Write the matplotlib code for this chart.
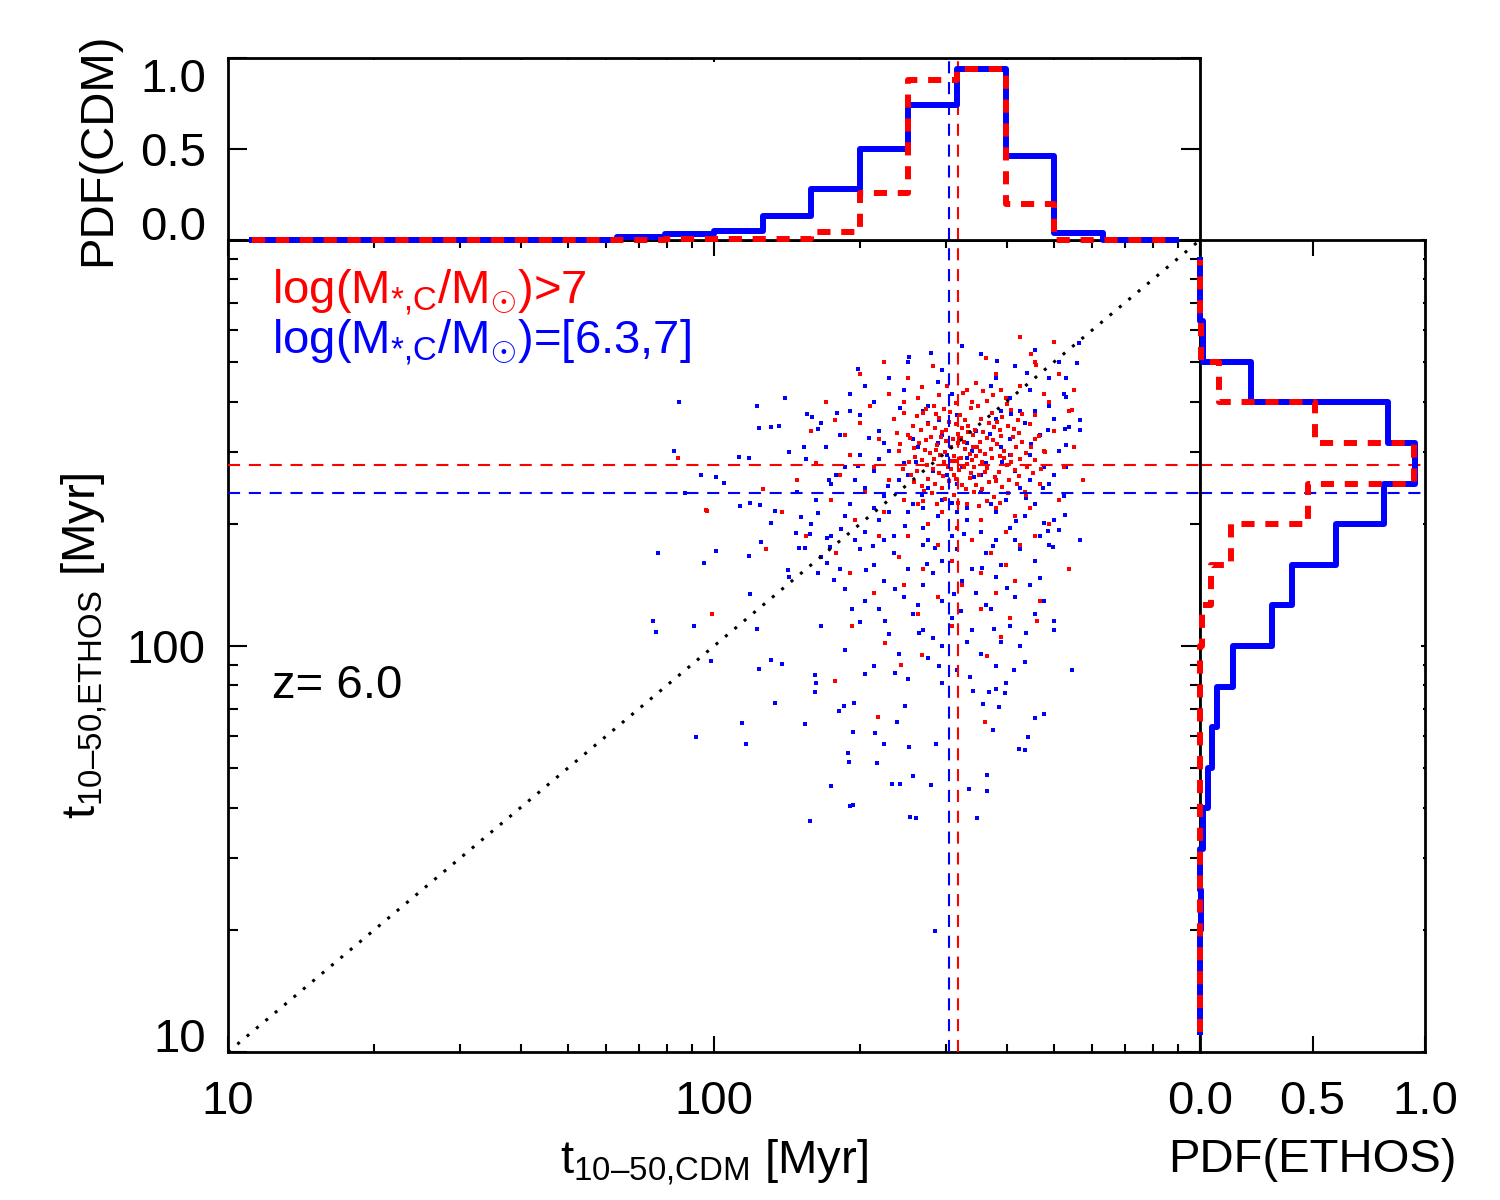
import numpy as np
import matplotlib
matplotlib.use('Agg')
import matplotlib.pyplot as plt
from matplotlib.ticker import LogLocator, NullFormatter, FixedLocator

plt.rcParams['font.family'] = ['Liberation Sans', 'DejaVu Sans']
plt.rcParams['mathtext.fontset'] = 'custom'
plt.rcParams['mathtext.rm'] = 'Liberation Sans'
plt.rcParams['mathtext.it'] = 'Liberation Sans:italic'
plt.rcParams['mathtext.bf'] = 'Liberation Sans:bold'
plt.rcParams['mathtext.sf'] = 'Liberation Sans'

# ---------------- data ----------------
# histogram bin centres in log10(t / Myr)
log_bin_centers = [1.05, 1.15, 1.25, 1.35, 1.45, 1.55, 1.65, 1.75, 1.85, 1.95,
                   2.05, 2.15, 2.25, 2.35, 2.45, 2.55, 2.65, 2.75, 2.85, 2.95]
pdf_cdm_blue = [0, 0, 0, 0, 0, 0, 0, 0, 0.018, 0.031,
                0.051, 0.13, 0.28, 0.50, 0.74, 0.94, 0.46, 0.04, 0, 0]
pdf_cdm_red = [0, 0, 0, 0, 0, 0, 0, 0, 0, 0.005,
               0.005, 0.005, 0.045, 0.26, 0.88, 0.94, 0.20, 0, 0, 0]
pdf_ethos_blue = [0, 0, 0, 0.005, 0, 0.012, 0.035, 0.053, 0.076, 0.145,
                  0.32, 0.41, 0.603, 0.818, 0.955, 0.837, 0.227, 0.012, 0, 0]
pdf_ethos_red = [0, 0, 0, 0, 0, 0, 0, 0, 0, 0,
                 0.007, 0.049, 0.136, 0.48, 0.95, 0.51, 0.086, 0.003, 0, 0]

# medians [Myr]
median_cdm_blue = 304
median_cdm_red = 318
median_ethos_blue = 238
median_ethos_red = 279

# scatter points: (log10 t_CDM, log10 t_ETHOS)
blue_points = [
    (2.40,2.70),(2.47,2.68),(2.55,2.72),(2.62,2.69),(2.66,2.73),(2.69,2.66),(2.36,2.66),(2.58,2.66),(2.51,2.74),(2.71,2.70),
    (2.28,2.62),(2.33,2.60),(2.39,2.63),(2.44,2.59),(2.49,2.62),(2.53,2.60),(2.57,2.64),(2.61,2.61),(2.65,2.63),(2.69,2.59),
    (2.72,2.62),(2.31,2.64),(2.46,2.65),(2.63,2.58),
    (2.22,2.55),(2.26,2.52),(2.30,2.57),(2.34,2.53),(2.37,2.56),(2.41,2.51),(2.44,2.55),(2.47,2.52),(2.50,2.57),(2.54,2.53),
    (2.58,2.56),(2.61,2.51),(2.64,2.55),(2.67,2.52),(2.70,2.56),(2.73,2.54),(2.35,2.50),(2.52,2.50),(2.59,2.58),(2.66,2.58),
    (2.28,2.58),(2.43,2.58),
    (2.19,2.46),(2.23,2.49),(2.27,2.44),(2.30,2.47),(2.33,2.43),(2.36,2.48),(2.39,2.45),(2.42,2.49),(2.45,2.43),(2.48,2.47),
    (2.51,2.44),(2.53,2.48),(2.56,2.45),(2.59,2.49),(2.62,2.43),(2.65,2.47),(2.68,2.44),(2.71,2.48),(2.25,2.42),(2.40,2.42),
    (2.55,2.42),(2.70,2.42),(2.34,2.46),(2.46,2.50),(2.61,2.47),
    (2.17,2.38),(2.21,2.36),(2.24,2.40),(2.28,2.35),(2.31,2.39),(2.35,2.37),(2.38,2.41),(2.41,2.35),(2.44,2.39),(2.47,2.36),
    (2.50,2.40),(2.52,2.34),(2.55,2.38),(2.58,2.41),(2.60,2.36),(2.63,2.39),(2.66,2.35),(2.69,2.40),(2.72,2.37),(2.29,2.41),
    (2.43,2.34),(2.57,2.35),(2.65,2.41),(2.33,2.34),(2.48,2.42),
    (2.20,2.30),(2.24,2.27),(2.27,2.32),(2.31,2.28),(2.34,2.31),(2.37,2.27),(2.40,2.33),(2.43,2.29),(2.46,2.32),(2.49,2.27),
    (2.52,2.31),(2.55,2.28),(2.58,2.33),(2.61,2.29),(2.64,2.32),(2.67,2.27),(2.70,2.31),(2.36,2.33),(2.50,2.33),(2.62,2.26),
    (2.29,2.26),(2.44,2.26),
    (2.22,2.22),(2.26,2.19),(2.30,2.24),(2.33,2.20),(2.37,2.23),(2.40,2.19),(2.43,2.25),(2.47,2.21),(2.50,2.24),(2.53,2.19),
    (2.56,2.23),(2.59,2.20),(2.63,2.24),(2.66,2.21),(2.69,2.25),(2.45,2.18),(2.58,2.26),(2.35,2.26),
    (2.27,2.14),(2.31,2.11),(2.35,2.16),(2.39,2.12),(2.43,2.15),(2.47,2.11),(2.51,2.16),(2.54,2.13),(2.58,2.17),(2.62,2.12),
    (2.65,2.15),(2.68,2.11),(2.42,2.10),(2.56,2.10),
    (2.30,2.06),(2.36,2.03),(2.41,2.08),(2.45,2.02),(2.49,2.07),(2.53,2.04),(2.57,2.09),(2.61,2.05),(2.66,2.08),(2.34,2.09),
    (2.47,2.00),(2.59,2.01),
    (2.33,1.95),(2.40,1.92),(2.44,1.97),(2.50,1.94),(2.55,1.98),(2.60,1.91),(2.64,1.96),
    (2.22,2.05),(2.27,1.99),(2.38,1.98),(2.52,2.01),(2.63,2.00),(2.70,2.04),(2.47,1.91),(2.31,1.93),(2.58,1.95),(2.43,2.04),
    (2.253,2.574),(2.318,2.512),(2.382,2.587),(2.416,2.452),(2.463,2.557),(2.521,2.463),(2.568,2.522),(2.611,2.572),(2.652,2.497),
    (2.688,2.531),(2.236,2.408),(2.297,2.443),(2.357,2.393),(2.428,2.372),(2.489,2.353),(2.536,2.417),(2.593,2.452),(2.642,2.364),
    (2.677,2.389),(2.213,2.327),(2.262,2.287),(2.328,2.247),(2.392,2.296),(2.455,2.241),(2.514,2.277),(2.574,2.247),(2.621,2.307),
    (2.687,2.283),(2.246,2.163),(2.312,2.187),(2.372,2.141),(2.438,2.203),(2.493,2.127),(2.551,2.192),(2.603,2.143),(2.671,2.167),
    (2.284,2.091),(2.352,2.061),(2.421,2.031),(2.508,2.087),(2.576,2.041),(2.643,2.031),(2.372,1.933),(2.463,1.951),(2.527,1.923),
    (2.618,1.942),(2.296,2.683),(2.401,2.712),(2.583,2.703),(2.644,2.672),
    (1.928,2.601),(2.089,2.591),(2.147,2.611),(2.093,2.537),(2.118,2.539),(2.134,2.542),(1.917,2.480),(2.052,2.466),
    (2.072,2.463),(1.973,2.421),(2.004,2.416),(2.021,2.401),(1.940,2.377),(2.054,2.345),(2.074,2.352),(2.095,2.347),
    (2.126,2.333),(2.118,2.303),(1.884,2.229),(2.004,2.234),(1.979,2.204),(2.072,2.222),(2.097,2.256),(2.446,2.722),
    (2.155,2.478),(2.186,2.490),(2.192,2.571),(2.202,2.564),(2.213,2.535),(2.169,2.278),(2.180,2.318),(2.198,2.276),
    (2.188,2.241),(2.174,2.241),(2.233,2.266),(2.238,2.244),(2.233,2.204),(2.213,2.180),(2.155,2.170),(2.153,2.187),
    (2.750,2.746),(2.746,2.697),(2.754,2.557),(2.754,2.532),(2.725,2.660),(2.725,2.613),(2.723,2.534),(2.725,2.495),
    (2.725,2.441),(2.709,2.286),(2.698,2.244),(2.754,2.261),(2.678,2.303),(2.723,2.323),
    (1.874,2.062),(1.880,2.034),(1.959,2.049),(1.963,1.776),(1.994,1.963),(2.058,1.810),(2.066,1.759),
    (2.074,2.128),(2.089,2.042),(2.093,1.943),(2.118,1.966),(2.126,1.860),(2.140,1.956),
    (2.188,1.808),(2.198,1.569),(2.207,1.929),(2.209,1.909),(2.207,1.887),
    (2.240,1.655),(2.258,1.840),(2.267,1.852),(2.289,1.860),(2.285,1.788),(2.275,1.736),(2.277,1.714),(2.279,1.606),(2.287,1.608),
    (2.331,1.786),(2.335,1.712),(2.349,1.759),(2.366,1.660),(2.382,1.660),(2.376,1.813),(2.393,1.852),(2.401,1.751),
    (2.409,1.680),(2.403,1.579),(2.415,1.576),(2.446,1.658),(2.457,1.759),(2.455,1.298),
    (2.541,1.576),(2.562,1.682),(2.562,1.643),(2.525,1.648),(2.554,1.857),(2.574,1.793),(2.587,1.850),(2.628,1.746),
    (2.640,1.744),(2.647,1.776),(2.661,1.823),(2.678,1.833),(2.700,2.062),(2.736,1.941),(2.599,1.884),(2.581,1.894),
    (2.566,1.887),(2.533,1.889),
]

red_points = [
    (2.437,2.583),(2.486,2.577),(2.528,2.586),(2.571,2.574),(2.612,2.581),
    (2.418,2.566),(2.462,2.561),(2.507,2.569),(2.549,2.558),(2.593,2.564),(2.634,2.571),
    (2.441,2.548),(2.483,2.552),(2.522,2.543),(2.566,2.549),(2.605,2.541),
    (2.425,2.533),(2.469,2.528),(2.511,2.537),(2.553,2.526),(2.588,2.532),(2.627,2.524),
    (2.446,2.516),(2.492,2.511),(2.533,2.519),(2.574,2.507),(2.616,2.514),
    (2.421,2.501),(2.458,2.494),(2.503,2.499),(2.541,2.491),(2.582,2.498),(2.622,2.489),
    (2.434,2.482),(2.476,2.477),(2.516,2.485),(2.557,2.473),(2.597,2.481),(2.641,2.476),
    (2.413,2.466),(2.452,2.461),(2.494,2.468),(2.531,2.457),(2.572,2.464),(2.611,2.453),
    (2.439,2.447),(2.481,2.441),(2.521,2.449),(2.562,2.438),(2.603,2.445),(2.645,2.442),
    (2.418,2.431),(2.463,2.426),(2.505,2.433),(2.545,2.422),(2.586,2.429),(2.627,2.419),
    (2.441,2.412),(2.484,2.407),(2.526,2.415),(2.566,2.403),(2.608,2.410),
    (2.427,2.394),(2.469,2.389),(2.511,2.397),(2.552,2.386),(2.593,2.392),
    (2.448,2.376),(2.493,2.371),(2.535,2.379),(2.577,2.368),
    (2.457,2.571),(2.543,2.592),(2.497,2.455),(2.539,2.468),(2.478,2.506),(2.515,2.502),
    (2.487,2.437),(2.529,2.426),(2.456,2.482),(2.562,2.512),(2.503,2.521),(2.548,2.481),(2.473,2.452),(2.597,2.463),
    (2.452,2.592),(2.498,2.598),(2.561,2.603),(2.603,2.596),(2.431,2.574),(2.474,2.584),(2.517,2.557),(2.583,2.552),(2.626,2.556),
    (2.409,2.541),(2.455,2.537),(2.497,2.546),(2.538,2.533),(2.577,2.539),(2.618,2.535),(2.651,2.546),
    (2.403,2.512),(2.436,2.507),(2.468,2.516),(2.509,2.513),(2.548,2.503),(2.591,2.517),(2.633,2.503),
    (2.412,2.487),(2.445,2.476),(2.487,2.491),(2.526,2.472),(2.569,2.486),(2.611,2.471),(2.653,2.491),
    (2.401,2.452),(2.428,2.459),(2.466,2.471),(2.508,2.462),(2.551,2.452),(2.588,2.469),(2.629,2.461),(2.661,2.457),
    (2.406,2.422),(2.451,2.437),(2.494,2.422),(2.536,2.441),(2.579,2.417),(2.619,2.433),(2.656,2.425),
    (2.412,2.403),(2.455,2.398),(2.497,2.412),(2.539,2.397),(2.581,2.406),(2.623,2.398),
    (2.433,2.381),(2.476,2.363),(2.518,2.386),(2.561,2.357),(2.604,2.378),(2.642,2.371),
    (2.459,2.349),(2.502,2.352),(2.545,2.344),(2.588,2.353),(2.431,2.357),
    (2.477,2.532),(2.523,2.527),(2.489,2.456),(2.532,2.491),(2.471,2.419),(2.514,2.442),(2.558,2.428),
    (2.382,2.497),(2.389,2.436),(2.377,2.524),(2.391,2.573),(2.668,2.517),(2.672,2.436),(2.681,2.479),
    (2.462,2.618),(2.512,2.622),(2.553,2.628),(2.591,2.631),(2.427,2.637),(2.574,2.619),(2.539,2.648),
    (2.36,2.62),(2.40,2.66),(2.45,2.69),(2.52,2.63),(2.58,2.67),(2.63,2.64),(2.68,2.62),(2.56,2.71),(2.48,2.64),(2.66,2.70),
    (2.71,2.67),(2.60,2.61),(2.42,2.61),(2.53,2.60),(2.39,2.60),
    (2.30,2.55),(2.34,2.51),(2.28,2.47),(2.33,2.44),(2.37,2.56),(2.38,2.48),(2.36,2.41),(2.31,2.38),(2.26,2.42),(2.39,2.36),
    (2.35,2.33),(2.29,2.31),(2.24,2.36),(2.40,2.52),(2.32,2.59),(2.21,2.45),(2.27,2.52),
    (2.66,2.57),(2.70,2.53),(2.68,2.48),(2.72,2.44),(2.67,2.40),(2.71,2.36),(2.65,2.34),(2.69,2.30),(2.74,2.49),(2.66,2.51),
    (2.73,2.58),(2.69,2.60),(2.64,2.38),
    (2.42,2.35),(2.47,2.33),(2.52,2.35),(2.58,2.34),(2.62,2.32),(2.44,2.30),(2.50,2.29),(2.55,2.31),(2.60,2.28),(2.40,2.27),
    (2.46,2.25),(2.53,2.26),(2.57,2.23),(2.63,2.25),(2.38,2.22),(2.49,2.21),(2.43,2.19),(2.55,2.18),(2.60,2.20),(2.34,2.27),
    (2.66,2.27),(2.51,2.15),(2.46,2.12),(2.58,2.13),(2.39,2.15),(2.62,2.16),
    (2.20,2.53),(2.17,2.41),(2.14,2.33),(2.19,2.27),(2.25,2.23),(2.28,2.18),(2.33,2.13),(2.42,2.08),(2.49,2.05),(2.55,2.09),
    (2.61,2.07),(2.67,2.11),(2.73,2.19),(2.76,2.41),(2.74,2.63),(2.70,2.75),(2.63,2.76),(2.23,2.60),(2.30,2.67),(2.35,2.70),
    (1.996,2.079),(2.337,1.825),(2.558,1.813),(2.248,1.914),(2.283,2.049),(2.665,2.062),(2.591,2.022),(2.562,1.975),
    (2.428,1.978),(2.384,1.953),(2.351,2.007),(1.926,2.463),(1.983,2.335),(2.101,2.387),(2.107,2.239),(2.653,2.719),
    (2.663,2.692),(2.248,2.557),(2.736,2.581),(1.986,2.333),
]

# ---------------- helpers ----------------
def step_xy(centers, vals, half=0.05):
    xs, ys = [], []
    n = len(centers)
    for i, (c, v) in enumerate(zip(centers, vals)):
        lo = c - half if i > 0 else c
        hi = c + half if i < n - 1 else c
        xs += [lo, hi]
        ys += [v, v]
    return 10 ** np.array(xs), np.array(ys)

BLUE = (0, 0, 1)
RED = (1, 0, 0)
HIST_LW = 4.3
RED_DASH = (0, (2.2, 1.8))
MED_LW = 1.5
MED_DASH = (0, (5.8, 4.2))
FS = 34
PT_SIZE = 9

fig = plt.figure(figsize=(15, 12), dpi=100)
ax = fig.add_axes([0.152, 0.1233, 0.648, 0.6767])
ax_top = fig.add_axes([0.152, 0.8, 0.648, 0.1517])
ax_r = fig.add_axes([0.8, 0.1233, 0.15, 0.6767])

for a in (ax, ax_top, ax_r):
    for s in a.spines.values():
        s.set_linewidth(2.0)

# ---------------- main panel ----------------
bp = np.array(blue_points)
rp = np.array(red_points)
ax.scatter(10 ** bp[:, 0], 10 ** bp[:, 1], s=PT_SIZE, marker='s', color=BLUE, linewidths=0, zorder=2)
ax.scatter(10 ** rp[:, 0], 10 ** rp[:, 1], s=PT_SIZE, marker='s', color=RED, linewidths=0, zorder=2)
ax.plot([10, 1000], [10, 1000], color='black', lw=2.2, linestyle=(0, (1, 3)), zorder=3)
ax.axvline(median_cdm_blue, color=BLUE, lw=MED_LW, linestyle=MED_DASH, zorder=4)
ax.axvline(median_cdm_red, color=RED, lw=MED_LW, linestyle=MED_DASH, zorder=4)
ax.axhline(median_ethos_red, color=RED, lw=MED_LW, linestyle=MED_DASH, zorder=4)
ax.axhline(median_ethos_blue, color=BLUE, lw=MED_LW, linestyle=MED_DASH, zorder=4)

ax.set_xscale('log')
ax.set_yscale('log')
ax.set_xlim(10, 1000)
ax.set_ylim(10, 1000)
ax.xaxis.set_major_locator(FixedLocator([10, 100, 1000]))
ax.yaxis.set_major_locator(FixedLocator([10, 100, 1000]))
ax.xaxis.set_minor_locator(LogLocator(base=10, subs=np.arange(2, 10)))
ax.yaxis.set_minor_locator(LogLocator(base=10, subs=np.arange(2, 10)))
ax.xaxis.set_minor_formatter(NullFormatter())
ax.yaxis.set_minor_formatter(NullFormatter())
ax.set_xticklabels(['10', '100', ''])
ylabs = ax.set_yticklabels(['10', '100', ''])
ylabs[0].set_verticalalignment('baseline')
ax.tick_params(axis='x', which='major', direction='in', top=True, bottom=True,
               length=11.7, width=1.5, labelsize=FS, pad=20)
ax.tick_params(axis='x', which='minor', direction='in', top=True, bottom=True,
               length=5.8, width=1.5)
ax.tick_params(axis='y', which='major', direction='in', left=True, right=True,
               length=14, width=1.5, labelsize=FS, pad=16)
ax.tick_params(axis='y', which='minor', direction='in', left=True, right=True,
               length=7, width=1.5)
ax.set_xlabel(r't$_{\text{10–50,CDM}}$ [Myr]', fontsize=FS, labelpad=10)
ax.set_ylabel(r't$_{\text{10–50,ETHOS}}$ [Myr]', fontsize=FS, labelpad=12)

ax.text(0.045, 0.935, r'log(M$_{\text{*,C}}$/M$_{\odot}$)>7', color=RED, fontsize=FS,
        transform=ax.transAxes, ha='left', va='center')
ax.text(0.045, 0.873, r'log(M$_{\text{*,C}}$/M$_{\odot}$)=[6.3,7]', color=BLUE, fontsize=FS,
        transform=ax.transAxes, ha='left', va='center')
ax.text(0.045, 0.451, 'z= 6.0', color='black', fontsize=FS,
        transform=ax.transAxes, ha='left', va='center')

# ---------------- top panel ----------------
xb, yb = step_xy(log_bin_centers, pdf_cdm_blue)
xr, yr = step_xy(log_bin_centers, pdf_cdm_red)
ax_top.plot(xb, yb, color=BLUE, lw=HIST_LW, clip_on=False, zorder=3)
ax_top.plot(xr, yr, color=RED, lw=HIST_LW, linestyle=RED_DASH, clip_on=False, zorder=4)
ax_top.axvline(median_cdm_blue, color=BLUE, lw=MED_LW, linestyle=MED_DASH, zorder=2)
ax_top.axvline(median_cdm_red, color=RED, lw=MED_LW, linestyle=MED_DASH, zorder=2)
ax_top.set_xscale('log')
ax_top.set_xlim(10, 1000)
ax_top.set_ylim(0, 1.0)
ax_top.xaxis.set_major_locator(FixedLocator([10, 100, 1000]))
ax_top.xaxis.set_minor_locator(LogLocator(base=10, subs=np.arange(2, 10)))
ax_top.xaxis.set_major_formatter(NullFormatter())
ax_top.xaxis.set_minor_formatter(NullFormatter())
ax_top.set_yticks([0, 0.5, 1.0])
tlabs = ax_top.set_yticklabels(['0.0', '0.5', '1.0'])
tlabs[0].set_verticalalignment('baseline')
tlabs[2].set_verticalalignment('top')
ax_top.tick_params(axis='x', which='major', direction='in', top=True, bottom=False,
                   length=2.6, width=1.5, labelbottom=False)
ax_top.tick_params(axis='x', which='minor', direction='in', top=True, bottom=False,
                   length=1.3, width=1.5)
ax_top.tick_params(axis='y', which='major', direction='in', left=True, right=True,
                   length=14, width=1.5, labelsize=FS, pad=16)
ax_top.set_ylabel('PDF(CDM)', fontsize=FS, labelpad=14)

# ---------------- right panel ----------------
yb2, xb2 = step_xy(log_bin_centers, pdf_ethos_blue)
yr2, xr2 = step_xy(log_bin_centers, pdf_ethos_red)
ax_r.plot(xb2, yb2, color=BLUE, lw=HIST_LW, clip_on=False, zorder=3)
ax_r.plot(xr2, yr2, color=RED, lw=HIST_LW, linestyle=RED_DASH, clip_on=False, zorder=4)
ax_r.axhline(median_ethos_red, color=RED, lw=MED_LW, linestyle=MED_DASH, zorder=2)
ax_r.axhline(median_ethos_blue, color=BLUE, lw=MED_LW, linestyle=MED_DASH, zorder=2)
ax_r.set_yscale('log')
ax_r.set_ylim(10, 1000)
ax_r.set_xlim(0, 1.0)
ax_r.yaxis.set_major_locator(FixedLocator([10, 100, 1000]))
ax_r.yaxis.set_minor_locator(LogLocator(base=10, subs=np.arange(2, 10)))
ax_r.yaxis.set_major_formatter(NullFormatter())
ax_r.yaxis.set_minor_formatter(NullFormatter())
ax_r.set_xticks([0, 0.5, 1.0])
ax_r.set_xticklabels(['0.0', '0.5', '1.0'])
ax_r.tick_params(axis='y', which='major', direction='in', left=False, right=True,
                 length=3.2, width=1.5, labelleft=False)
ax_r.tick_params(axis='y', which='minor', direction='in', left=False, right=True,
                 length=1.6, width=1.5)
ax_r.tick_params(axis='x', which='major', direction='in', top=True, bottom=True,
                 length=11.7, width=1.5, labelsize=FS, pad=20)
ax_r.set_xlabel('PDF(ETHOS)', fontsize=FS, labelpad=10)

fig.savefig('out.png', dpi=100)
